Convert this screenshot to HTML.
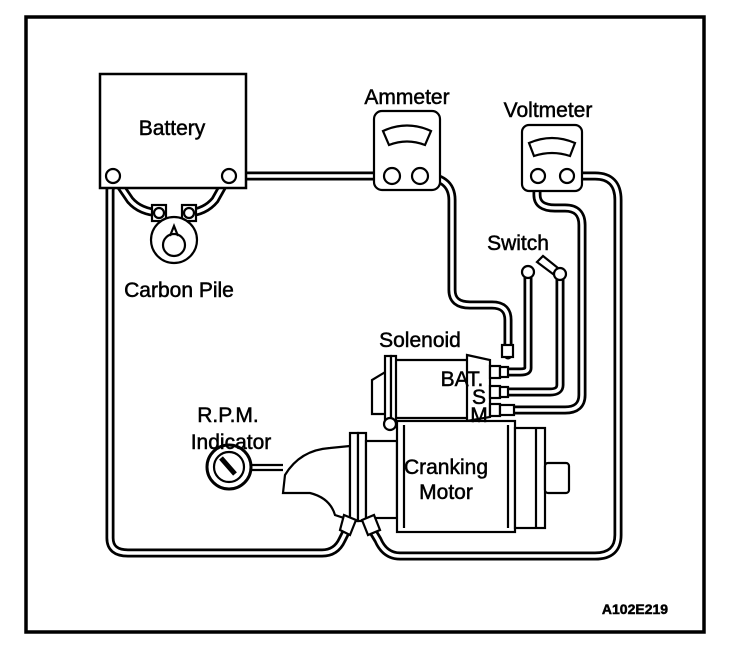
<!DOCTYPE html>
<html><head><style>
html,body{margin:0;padding:0;background:#fff;}
svg{display:block;}
text{font-family:"Liberation Sans",Arial,sans-serif;fill:#000;stroke:#000;stroke-width:0.5;}
</style></head><body>
<svg width="736" height="656" viewBox="0 0 736 656" xmlns="http://www.w3.org/2000/svg">
<rect x="26" y="17" width="678" height="615" fill="#fff" stroke="#000" stroke-width="3.5"/>

<g fill="none" stroke-linejoin="round" stroke-linecap="round">
<g stroke="#000" stroke-width="9">
 <path d="M229,176 L392,176"/>
 <path d="M420,176 Q452,176 452,200 L452,290 Q452,305 470,305 L492,305 Q508,305 508,320 L508,355"/>
 <path d="M528,272 L528,368 Q528,372 520,372 L500,372"/>
 <path d="M560,273 L560,385 Q560,392 550,392 L500,392"/>
 <path d="M537,176 L537,195 Q537,208 555,208 L565,208 Q582,208 582,225 L582,395 Q582,410 565,410 L515,410"/>
 <path d="M567,176 L595,176 Q618,176 618,200 L618,535 Q618,556 595,556 L400,556 Q385,556 378,540 L366,520"/>
 <path d="M113,175 L110,190 L110,538 Q110,553 128,553 L322,553 Q336,553 342,540 L352,520"/>
 <path d="M113,175 L130,200 Q140,212 160,213"/>
 <path d="M229,175 L215,200 Q205,212 188,213"/>
</g>
<g stroke="#fff" stroke-width="3.5">
 <path d="M229,176 L392,176"/>
 <path d="M420,176 Q452,176 452,200 L452,290 Q452,305 470,305 L492,305 Q508,305 508,320 L508,355"/>
 <path d="M528,272 L528,368 Q528,372 520,372 L500,372"/>
 <path d="M560,273 L560,385 Q560,392 550,392 L500,392"/>
 <path d="M537,176 L537,195 Q537,208 555,208 L565,208 Q582,208 582,225 L582,395 Q582,410 565,410 L515,410"/>
 <path d="M567,176 L595,176 Q618,176 618,200 L618,535 Q618,556 595,556 L400,556 Q385,556 378,540 L366,520"/>
 <path d="M113,175 L110,190 L110,538 Q110,553 128,553 L322,553 Q336,553 342,540 L352,520"/>
 <path d="M113,175 L130,200 Q140,212 160,213"/>
 <path d="M229,175 L215,200 Q205,212 188,213"/>
</g>
</g>

<g fill="#fff" stroke="#000" stroke-width="2.2">
<path d="M100,74 L246,74 L246,188 L100,188 Z" stroke-width="2.5"/>
<circle cx="113" cy="176" r="7"/>
<circle cx="229" cy="176" r="7"/>
<rect x="152" y="205" width="14" height="16"/>
<rect x="182" y="205" width="14" height="16"/>
<circle cx="174" cy="240" r="23"/>
<circle cx="174" cy="245" r="11"/>
<path d="M170,236 L174,226 L178,236" fill="none"/>
<circle cx="159" cy="213" r="5"/>
<circle cx="189" cy="213" r="5"/>
<rect x="374" y="111" width="66" height="79" rx="8"/>
<path d="M383,131 Q407,120 431,131 L425,145 Q407,138 389,145 Z"/>
<circle cx="392" cy="176" r="8"/>
<circle cx="420" cy="176" r="8"/>
<rect x="522" y="125" width="60" height="66" rx="7"/>
<path d="M529,143 Q552,133 575,143 L570,156 Q552,150 534,156 Z"/>
<circle cx="538" cy="176" r="7"/>
<circle cx="567" cy="176" r="7"/>
<circle cx="528" cy="272" r="6"/>
<path d="M537,262 L543,256 L558,268 L553,274 Z"/>
<circle cx="560" cy="274" r="6"/>
<path d="M350,446 L330,448 Q300,450 285,475 L283,493 L310,493 Q330,498 335,515 L350,520 Z"/>
<line x1="252" y1="465" x2="283" y2="465"/><line x1="252" y1="470" x2="283" y2="470"/>
<circle cx="229" cy="467" r="22" stroke-width="3"/>
<circle cx="229" cy="467" r="15"/>
<path d="M221,458 L235,474" stroke-width="5"/>
<rect x="350" y="433" width="8" height="88"/>
<rect x="358" y="433" width="8" height="88"/>
<rect x="366" y="441" width="31" height="77"/>
<path d="M392,360 L468,360 L468,418 L392,418 Z"/>
<path d="M392,368 L372,380 L372,414 L392,414"/>
<rect x="385" y="356" width="6" height="64"/>
<rect x="391" y="356" width="5" height="64"/>
<path d="M467,355 L490,360 L490,417 L467,421 Z"/>
<circle cx="390" cy="424" r="6"/>
<rect x="490" y="366" width="10" height="12"/><rect x="500" y="367" width="8" height="10"/>
<rect x="502" y="345" width="11" height="12"/>
<rect x="490" y="386" width="10" height="12"/><rect x="500" y="387" width="8" height="10"/>
<rect x="490" y="404" width="10" height="12"/><rect x="500" y="405" width="14" height="10"/>
<rect x="397" y="421" width="118" height="111"/>
<line x1="404" y1="425" x2="404" y2="528"/><line x1="508" y1="425" x2="508" y2="528"/>
<rect x="515" y="428" width="30" height="100"/>
<line x1="536" y1="428" x2="536" y2="528"/>
<rect x="545" y="463" width="24" height="30" rx="3"/>
<path d="M344,515 L356,520 L350,535 L340,530 Z"/>
<path d="M362,520 L374,515 L380,530 L368,535 Z"/>
</g>

<g font-size="21" text-anchor="middle">
<text x="172" y="135">Battery</text>
<text x="407" y="104">Ammeter</text>
<text x="548" y="117">Voltmeter</text>
<text x="518" y="250">Switch</text>
<text x="420" y="347">Solenoid</text>
<text x="462" y="386">BAT.</text>
<text x="479" y="404">S</text>
<text x="479" y="422">M</text>
<text x="179" y="297">Carbon Pile</text>
<text x="228" y="422">R.P.M.</text>
<text x="231" y="449">Indicator</text>
<text x="446" y="474">Cranking</text>
<text x="446" y="499">Motor</text>
</g>
<text x="635" y="614" font-size="14" font-weight="bold" text-anchor="middle">A102E219</text>
</svg>
</body></html>
